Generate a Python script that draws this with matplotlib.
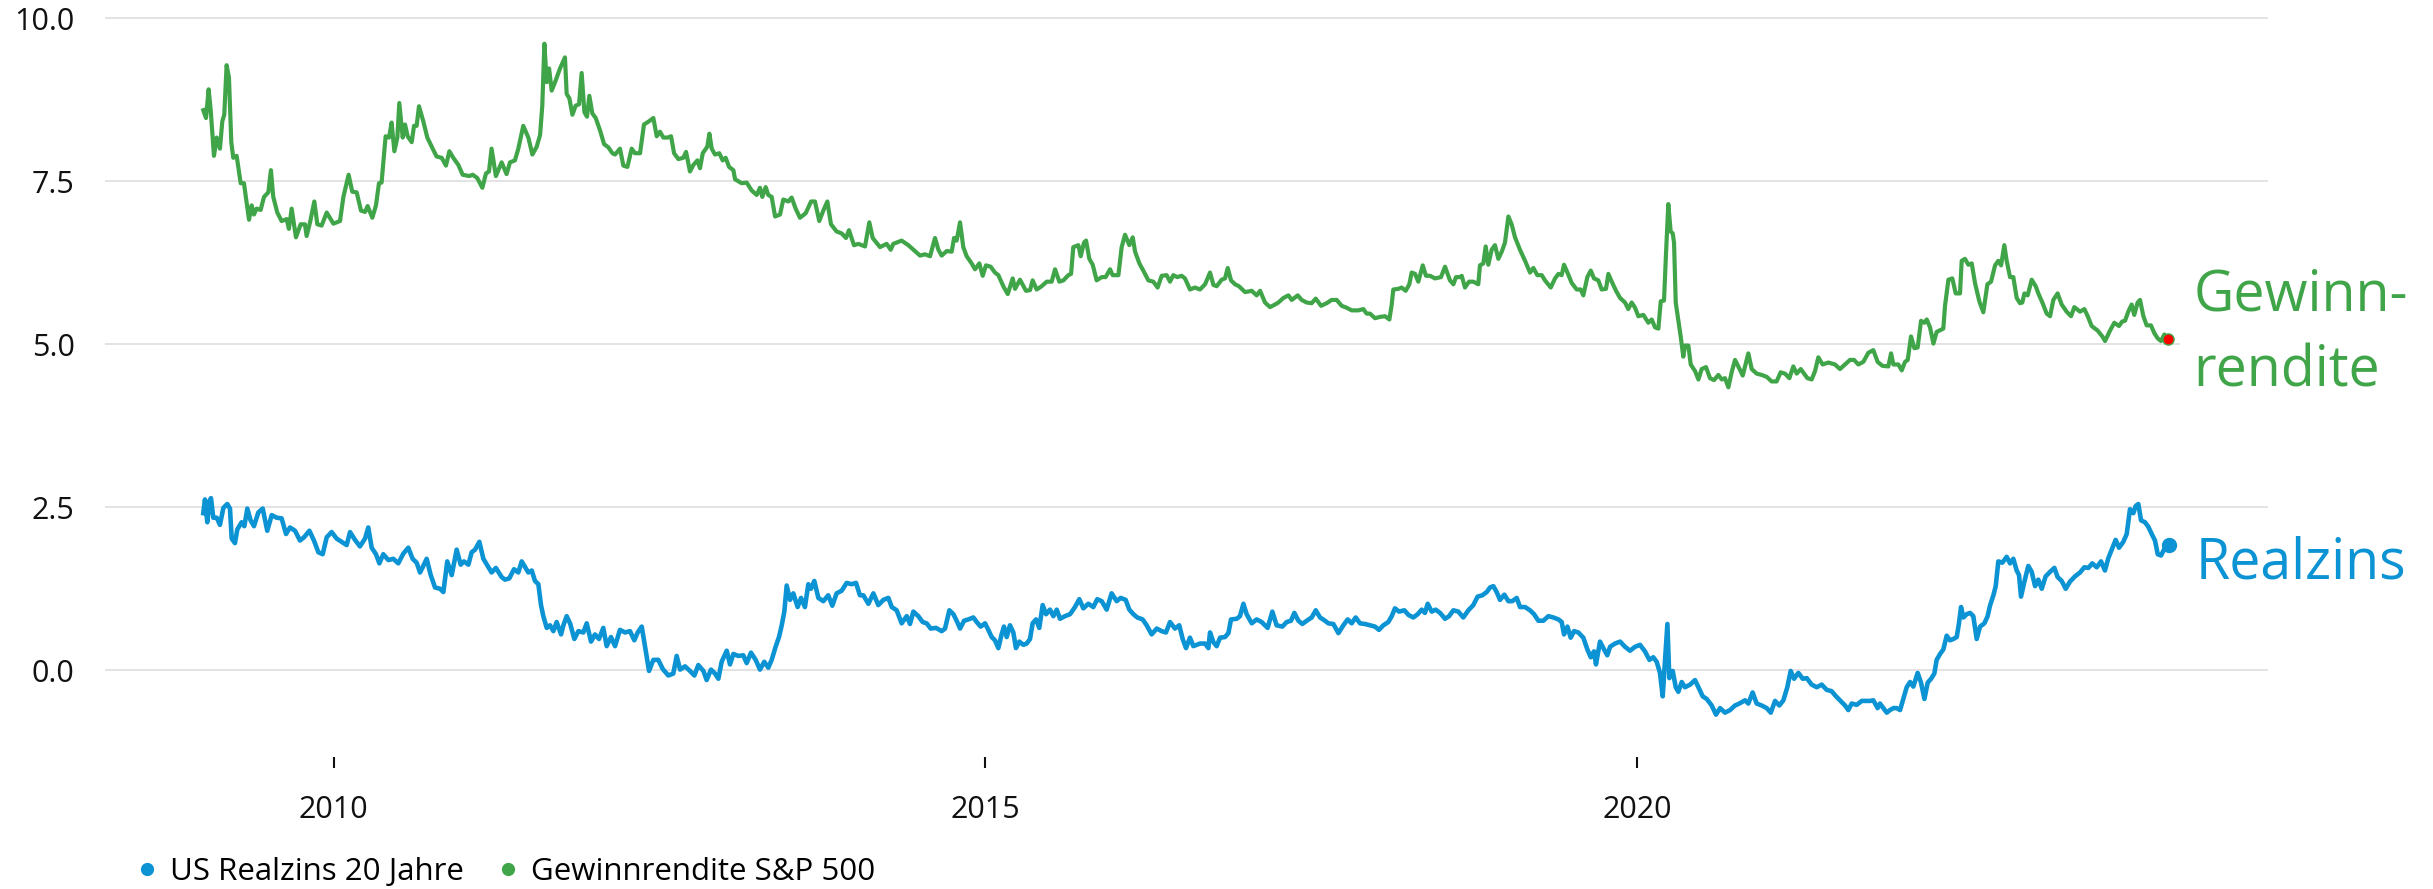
import matplotlib.pyplot as plt
from matplotlib.lines import Line2D

plt.rcParams['font.family'] = ['Open Sans', 'DejaVu Sans']

gruen = '#40a548'
blau = '#0b93d3'

# Gewinnrendite S&P 500 (Jahr als Dezimalzahl, Wert in %)
gewinn_jahr = [
    2009.000, 2009.021, 2009.041, 2009.057, 2009.082, 2009.103, 2009.128, 2009.146, 2009.161, 2009.179,
    2009.197, 2009.215, 2009.230, 2009.256, 2009.287, 2009.312, 2009.351, 2009.371, 2009.389, 2009.409,
    2009.440, 2009.466, 2009.499, 2009.519, 2009.537, 2009.568, 2009.601, 2009.640, 2009.657, 2009.678,
    2009.711, 2009.747, 2009.780, 2009.793, 2009.819, 2009.852, 2009.875, 2009.908, 2009.947, 2009.998,
    2010.049, 2010.075, 2010.115, 2010.143, 2010.177, 2010.210, 2010.241, 2010.261, 2010.297, 2010.325,
    2010.348, 2010.368, 2010.399, 2010.425, 2010.445, 2010.466, 2010.489, 2010.504, 2010.530, 2010.548,
    2010.568, 2010.599, 2010.617, 2010.637, 2010.655, 2010.688, 2010.719, 2010.760, 2010.790, 2010.829,
    2010.862, 2010.888, 2010.918, 2010.957, 2010.990, 2011.041, 2011.067, 2011.102, 2011.141, 2011.169,
    2011.192, 2011.212, 2011.245, 2011.289, 2011.327, 2011.353, 2011.391, 2011.417, 2011.455,
    2011.494, 2011.525, 2011.558, 2011.584, 2011.601, 2011.617, 2011.635, 2011.653, 2011.673, 2011.699,
    2011.737, 2011.775, 2011.788, 2011.809, 2011.832, 2011.857, 2011.883, 2011.903, 2011.924, 2011.944,
    2011.962, 2011.985, 2012.011, 2012.044, 2012.075, 2012.108, 2012.139, 2012.159, 2012.197, 2012.223,
    2012.254, 2012.287, 2012.312, 2012.351, 2012.381, 2012.420, 2012.453, 2012.479, 2012.504, 2012.530,
    2012.563, 2012.589, 2012.612, 2012.645, 2012.683, 2012.704, 2012.734, 2012.760, 2012.791, 2012.811,
    2012.832, 2012.867, 2012.883, 2012.901, 2012.926, 2012.959, 2012.985, 2013.008, 2013.034, 2013.067,
    2013.080, 2013.131, 2013.169, 2013.207, 2013.246, 2013.271, 2013.289, 2013.315, 2013.335, 2013.361,
    2013.387, 2013.425, 2013.450, 2013.489, 2013.514, 2013.545, 2013.578, 2013.622, 2013.663, 2013.693,
    2013.726, 2013.757, 2013.788, 2013.816, 2013.859, 2013.898, 2013.931, 2013.954, 2013.992, 2014.026,
    2014.077, 2014.110, 2014.136, 2014.192, 2014.243, 2014.274, 2014.294, 2014.358, 2014.409, 2014.448,
    2014.499, 2014.537, 2014.576, 2014.614, 2014.640, 2014.665, 2014.704, 2014.742, 2014.760, 2014.780,
    2014.806, 2014.831, 2014.857, 2014.895, 2014.921, 2014.954, 2014.980, 2015.005, 2015.041, 2015.074,
    2015.100, 2015.138, 2015.172, 2015.210, 2015.228, 2015.266, 2015.312, 2015.343, 2015.363, 2015.394,
    2015.432, 2015.471, 2015.509, 2015.535, 2015.568, 2015.599, 2015.637, 2015.658, 2015.675, 2015.714,
    2015.732, 2015.757, 2015.773, 2015.798, 2015.824, 2015.854, 2015.893, 2015.923, 2015.957, 2015.977,
    2016.021, 2016.046, 2016.072, 2016.105, 2016.131, 2016.149, 2016.182, 2016.212, 2016.251, 2016.289,
    2016.322, 2016.353, 2016.391, 2016.417, 2016.442, 2016.473, 2016.506, 2016.532, 2016.570, 2016.609,
    2016.647, 2016.686, 2016.724, 2016.750, 2016.775, 2016.813, 2016.839, 2016.860, 2016.885, 2016.916,
    2016.946, 2016.993, 2017.044, 2017.082, 2017.108, 2017.146, 2017.184, 2017.223, 2017.248, 2017.287,
    2017.325, 2017.351, 2017.397, 2017.427, 2017.466, 2017.504, 2017.535, 2017.576, 2017.619, 2017.657,
    2017.696, 2017.734, 2017.772, 2017.811, 2017.862, 2017.900, 2017.926, 2017.951, 2017.990, 2018.028,
    2018.067, 2018.100, 2018.118, 2018.130, 2018.169, 2018.194, 2018.225, 2018.253, 2018.271, 2018.297,
    2018.322, 2018.356, 2018.381, 2018.412, 2018.450, 2018.496, 2018.527, 2018.565, 2018.591, 2018.611,
    2018.642, 2018.655, 2018.680, 2018.711, 2018.744, 2018.782, 2018.795, 2018.821, 2018.839, 2018.859,
    2018.885, 2018.910, 2018.936, 2018.962, 2018.987, 2019.013, 2019.038, 2019.064, 2019.102, 2019.141,
    2019.179,
    2019.205, 2019.235, 2019.269, 2019.294, 2019.338, 2019.371, 2019.397, 2019.422, 2019.440, 2019.466,
    2019.499, 2019.537, 2019.568, 2019.588, 2019.619, 2019.645, 2019.670, 2019.703, 2019.729, 2019.762,
    2019.780, 2019.806, 2019.839, 2019.870, 2019.908, 2019.933, 2019.959, 2019.985, 2020.010, 2020.049,
    2020.087, 2020.113, 2020.138, 2020.164, 2020.182, 2020.207, 2020.223, 2020.240, 2020.258, 2020.274,
    2020.284, 2020.297, 2020.317, 2020.335, 2020.355, 2020.368, 2020.394, 2020.412, 2020.445, 2020.471,
    2020.496, 2020.529, 2020.560, 2020.591, 2020.624, 2020.650, 2020.675, 2020.701, 2020.726, 2020.752,
    2020.777, 2020.811, 2020.854, 2020.880, 2020.918, 2020.956, 2020.995, 2021.033, 2021.071, 2021.102,
    2021.135, 2021.169, 2021.199, 2021.225, 2021.256, 2021.281, 2021.307, 2021.340, 2021.366, 2021.391,
    2021.424, 2021.468, 2021.519, 2021.557, 2021.596, 2021.634, 2021.665, 2021.698, 2021.736,
    2021.775, 2021.813, 2021.846, 2021.882, 2021.928, 2021.949, 2021.967, 2022.005, 2022.031, 2022.056,
    2022.077, 2022.102, 2022.128, 2022.153, 2022.179, 2022.205, 2022.223, 2022.248, 2022.274, 2022.299,
    2022.350, 2022.363, 2022.389, 2022.419, 2022.445, 2022.478, 2022.491, 2022.516, 2022.542, 2022.568,
    2022.593, 2022.626, 2022.657, 2022.688, 2022.716, 2022.747, 2022.772, 2022.793, 2022.818, 2022.836,
    2022.862, 2022.887, 2022.913, 2022.938, 2022.956, 2022.972, 2022.997, 2023.028, 2023.059, 2023.079,
    2023.112, 2023.143, 2023.169, 2023.194, 2023.227, 2023.258, 2023.296, 2023.330, 2023.355, 2023.399,
    2023.432, 2023.458, 2023.488, 2023.534, 2023.570, 2023.591, 2023.629, 2023.662, 2023.698, 2023.723,
    2023.744, 2023.769, 2023.795, 2023.815, 2023.841, 2023.859, 2023.885, 2023.910, 2023.943, 2023.969,
    2023.995, 2024.020, 2024.046, 2024.077,
]
gewinn_wert = [
    8.59, 8.47, 8.91, 8.59, 7.89, 8.17, 8.00, 8.42, 8.52, 9.28,
    9.09, 8.10, 7.86, 7.89, 7.47, 7.47, 6.91, 7.13, 6.99, 7.08,
    7.06, 7.26, 7.33, 7.67, 7.26, 7.02, 6.89, 6.92, 6.77, 7.08,
    6.64, 6.84, 6.84, 6.66, 6.87, 7.19, 6.84, 6.82, 7.02, 6.85,
    6.89, 7.26, 7.60, 7.34, 7.33, 7.05, 7.03, 7.12, 6.94, 7.13,
    7.47, 7.48, 8.19, 8.17, 8.40, 7.96, 8.17, 8.70, 8.17, 8.37,
    8.19, 8.10, 8.35, 8.35, 8.65, 8.42, 8.17, 8.00, 7.88, 7.86,
    7.74, 7.96, 7.86, 7.75, 7.60, 7.58, 7.60, 7.55, 7.40, 7.62,
    7.65, 8.00, 7.58, 7.79, 7.61, 7.79, 7.82, 8.00, 8.35,
    8.17, 7.91, 8.03, 8.21, 8.66, 9.61, 9.02, 9.23, 8.89, 9.02,
    9.23, 9.40, 8.84, 8.77, 8.52, 8.66, 8.68, 9.16, 8.56, 8.49,
    8.81, 8.54, 8.47, 8.28, 8.07, 8.02, 7.93, 7.91, 8.00, 7.74,
    7.72, 8.00, 7.93, 7.93, 8.37, 8.42, 8.47, 8.19, 8.26, 8.17,
    8.17, 8.19, 7.93, 7.84, 7.86, 7.95, 7.65, 7.75, 7.82, 7.70,
    7.93, 8.03, 8.23, 8.00, 7.91, 7.93, 7.82, 7.86, 7.72, 7.67,
    7.53, 7.47, 7.48, 7.36, 7.29, 7.40, 7.26, 7.41, 7.29, 7.26,
    6.96, 6.99, 7.22, 7.19, 7.25, 7.08, 6.94, 7.01, 7.19, 7.19,
    6.89, 7.05, 7.19, 6.84, 6.73, 6.70, 6.63, 6.75, 6.52, 6.54,
    6.50, 6.87, 6.63, 6.49, 6.54, 6.45, 6.54, 6.59, 6.52, 6.45,
    6.36, 6.38, 6.35, 6.63, 6.45, 6.36, 6.43, 6.42, 6.63, 6.59,
    6.87, 6.49, 6.35, 6.24, 6.15, 6.24, 6.05, 6.21, 6.19, 6.10,
    6.06, 5.89, 5.77, 6.01, 5.85, 5.99, 5.82, 5.83, 5.98, 5.84,
    5.89, 5.96, 5.96, 6.15, 5.96, 5.98, 6.06, 6.08, 6.49, 6.52,
    6.35, 6.56, 6.59, 6.31, 6.22, 5.98, 6.03, 6.03, 6.15, 6.06,
    6.06, 6.49, 6.68, 6.52, 6.64, 6.42, 6.24, 6.13, 5.98, 5.96,
    5.87, 6.05, 6.06, 5.96, 6.06, 6.03, 6.05, 6.01, 5.84, 5.87,
    5.84, 5.92, 6.10, 5.91, 5.89, 5.99, 6.01, 6.17, 5.98, 5.92,
    5.89, 5.80, 5.82, 5.75, 5.82, 5.64, 5.57, 5.61, 5.64, 5.71,
    5.75, 5.68, 5.75, 5.68, 5.64, 5.63, 5.70, 5.59, 5.63, 5.68,
    5.68, 5.59, 5.56, 5.52, 5.52, 5.54, 5.47, 5.47, 5.40, 5.42,
    5.43, 5.38, 5.61, 5.84, 5.85, 5.87, 5.82, 5.92, 6.10, 6.08,
    5.96, 6.21, 6.05, 6.05, 6.01, 6.03, 6.19, 5.98, 5.92, 6.03,
    6.03, 6.05, 5.87, 5.96, 5.96, 5.92, 6.21, 6.24, 6.50, 6.22,
    6.45, 6.52, 6.31, 6.42, 6.56, 6.96, 6.84, 6.64, 6.45, 6.28,
    6.10,
    6.17, 6.06, 6.06, 5.98, 5.87, 6.01, 6.08, 6.06, 6.22, 6.10,
    5.94, 5.84, 5.84, 5.75, 6.03, 6.13, 6.01, 5.98, 5.84, 5.85,
    6.08, 5.96, 5.82, 5.71, 5.64, 5.54, 5.64, 5.56, 5.43, 5.45,
    5.33, 5.38, 5.26, 5.24, 5.66, 5.67, 6.42, 7.15, 6.73, 6.70,
    6.56, 5.64, 5.36, 5.12, 4.81, 4.98, 4.98, 4.69, 4.59, 4.46,
    4.62, 4.65, 4.48, 4.45, 4.53, 4.46, 4.48, 4.34, 4.57, 4.76,
    4.66, 4.52, 4.86, 4.62, 4.55, 4.53, 4.50, 4.43, 4.43, 4.57,
    4.55, 4.48, 4.66, 4.55, 4.62, 4.55, 4.48, 4.46, 4.59, 4.80,
    4.69, 4.72, 4.69, 4.62, 4.69, 4.76, 4.76, 4.69, 4.73,
    4.87, 4.91, 4.73, 4.67, 4.66, 4.86, 4.69, 4.69, 4.60, 4.73,
    4.76, 5.12, 4.94, 4.95, 5.36, 5.33, 5.38, 5.26, 5.01, 5.19,
    5.24, 5.59, 5.99, 6.01, 5.78, 5.78, 6.28, 6.31, 6.22, 6.24,
    5.94, 5.66, 5.49, 5.92, 5.96, 6.21, 6.28, 6.21, 6.52, 6.28,
    6.03, 6.03, 5.71, 5.63, 5.64, 5.78, 5.75, 5.99, 5.89, 5.78,
    5.63, 5.47, 5.43, 5.68, 5.78, 5.61, 5.50, 5.43, 5.57, 5.50,
    5.54, 5.43, 5.28, 5.21, 5.12, 5.05, 5.21, 5.33, 5.28, 5.35,
    5.36, 5.50, 5.61, 5.45, 5.64, 5.68, 5.43, 5.29, 5.29, 5.17,
    5.09, 5.05, 5.15, 5.08,
]

# US Realzins 20 Jahre
real_jahr = [
    2009.000, 2009.013, 2009.031, 2009.047, 2009.059, 2009.077, 2009.103, 2009.128, 2009.154, 2009.184,
    2009.205, 2009.218, 2009.243, 2009.261, 2009.294, 2009.315, 2009.338, 2009.363, 2009.389, 2009.422,
    2009.456, 2009.491, 2009.525, 2009.563, 2009.601, 2009.635, 2009.665, 2009.704, 2009.742, 2009.773,
    2009.814, 2009.849, 2009.883, 2009.916, 2009.947, 2009.985, 2010.023, 2010.062, 2010.100, 2010.126,
    2010.164, 2010.202, 2010.241, 2010.266, 2010.292, 2010.325, 2010.351, 2010.381, 2010.420, 2010.458,
    2010.496, 2010.535, 2010.573, 2010.606, 2010.637, 2010.663, 2010.688, 2010.714, 2010.745, 2010.778,
    2010.816, 2010.842, 2010.872, 2010.906, 2010.944, 2010.975, 2011.000, 2011.034, 2011.059, 2011.085,
    2011.118, 2011.149, 2011.182, 2011.212, 2011.245, 2011.289, 2011.315, 2011.348, 2011.384, 2011.417,
    2011.443,
    2011.494, 2011.520, 2011.545, 2011.571, 2011.591, 2011.609, 2011.635, 2011.660, 2011.686, 2011.711,
    2011.745, 2011.763, 2011.788, 2011.814, 2011.847, 2011.878, 2011.916, 2011.942, 2011.975, 2012.005,
    2012.036, 2012.069, 2012.095, 2012.128, 2012.159, 2012.197, 2012.236, 2012.274, 2012.307, 2012.333,
    2012.364, 2012.389, 2012.420, 2012.453, 2012.491, 2012.525, 2012.568, 2012.606, 2012.632, 2012.658,
    2012.696, 2012.734, 2012.768, 2012.798, 2012.837, 2012.862, 2012.895, 2012.926, 2012.952, 2012.977,
    2013.016, 2013.041, 2013.067, 2013.105, 2013.143, 2013.169, 2013.202, 2013.238, 2013.271, 2013.304,
    2013.335, 2013.361, 2013.391, 2013.417, 2013.438, 2013.458, 2013.476, 2013.502, 2013.527, 2013.560,
    2013.586, 2013.616, 2013.642, 2013.662, 2013.688, 2013.719, 2013.757, 2013.795, 2013.826, 2013.859,
    2013.898, 2013.936, 2013.974, 2014.008, 2014.038,
    2014.064, 2014.103, 2014.141, 2014.179, 2014.218, 2014.256, 2014.282, 2014.320, 2014.358, 2014.397,
    2014.422, 2014.448, 2014.486, 2014.519, 2014.550, 2014.581, 2014.622, 2014.665, 2014.691, 2014.724,
    2014.755, 2014.780, 2014.806, 2014.837, 2014.870, 2014.908, 2014.934, 2014.964, 2014.998, 2015.023,
    2015.049, 2015.074, 2015.100, 2015.125, 2015.143, 2015.164, 2015.189, 2015.215, 2015.235, 2015.261,
    2015.292, 2015.317, 2015.343, 2015.363, 2015.389, 2015.414, 2015.440, 2015.466, 2015.496, 2015.522,
    2015.548, 2015.573, 2015.611, 2015.650, 2015.688, 2015.721, 2015.752, 2015.790, 2015.829, 2015.859,
    2015.893, 2015.931, 2015.969, 2016.008, 2016.038, 2016.077, 2016.105, 2016.136, 2016.166, 2016.207,
    2016.238, 2016.276, 2016.315, 2016.353, 2016.386, 2016.417, 2016.455, 2016.488, 2016.514, 2016.540,
    2016.570, 2016.596,
    2016.647, 2016.686, 2016.711, 2016.724, 2016.750, 2016.775, 2016.801, 2016.839, 2016.865, 2016.885,
    2016.929, 2016.954, 2016.980, 2017.005, 2017.044, 2017.082, 2017.120, 2017.166, 2017.202, 2017.235,
    2017.279, 2017.312, 2017.345, 2017.371, 2017.402, 2017.432, 2017.466, 2017.504, 2017.535, 2017.568,
    2017.606, 2017.632, 2017.670, 2017.709, 2017.747, 2017.780, 2017.811, 2017.841, 2017.875, 2017.913,
    2017.951, 2017.990, 2018.020, 2018.054, 2018.092, 2018.118, 2018.143, 2018.174, 2018.215, 2018.246,
    2018.284, 2018.317, 2018.348, 2018.373, 2018.394, 2018.425, 2018.455, 2018.489, 2018.527, 2018.558,
    2018.591, 2018.629, 2018.667, 2018.706, 2018.744, 2018.777, 2018.813, 2018.847, 2018.872, 2018.898,
    2018.923, 2018.949, 2018.982, 2019.013, 2019.043, 2019.077, 2019.102, 2019.141, 2019.179,
    2019.210, 2019.243, 2019.281, 2019.320, 2019.358, 2019.397, 2019.422, 2019.440, 2019.466, 2019.491,
    2019.517, 2019.550, 2019.588, 2019.619, 2019.645, 2019.670, 2019.685, 2019.716, 2019.747, 2019.772,
    2019.793, 2019.831, 2019.870, 2019.908, 2019.946, 2019.985, 2020.023, 2020.061, 2020.095, 2020.125,
    2020.151, 2020.176, 2020.197, 2020.215, 2020.233, 2020.248, 2020.274, 2020.297, 2020.317, 2020.343,
    2020.368, 2020.407, 2020.445, 2020.471, 2020.504, 2020.535, 2020.573, 2020.606, 2020.637, 2020.675,
    2020.714, 2020.752, 2020.785, 2020.829, 2020.854, 2020.887, 2020.918, 2020.956, 2020.995, 2021.026,
    2021.059, 2021.092, 2021.123, 2021.153, 2021.179, 2021.205, 2021.238, 2021.271, 2021.302, 2021.340,
    2021.379, 2021.417, 2021.455, 2021.493, 2021.527, 2021.557, 2021.596, 2021.621, 2021.647, 2021.685,
    2021.724,
    2021.788, 2021.813, 2021.846, 2021.864, 2021.890, 2021.916, 2021.941, 2021.967, 2021.992, 2022.018,
    2022.043, 2022.069, 2022.095, 2022.120, 2022.153, 2022.179, 2022.205, 2022.230, 2022.256, 2022.281,
    2022.299, 2022.325, 2022.350, 2022.376, 2022.401, 2022.427, 2022.453, 2022.470, 2022.486, 2022.504,
    2022.529, 2022.555, 2022.580, 2022.606, 2022.632, 2022.665, 2022.690, 2022.708, 2022.734, 2022.752,
    2022.772, 2022.803, 2022.836, 2022.862, 2022.887, 2022.913, 2022.931, 2022.946, 2022.972, 2023.002,
    2023.028, 2023.054, 2023.079, 2023.105, 2023.135, 2023.169, 2023.202, 2023.227, 2023.258, 2023.289,
    2023.322, 2023.360, 2023.399, 2023.432, 2023.463, 2023.493, 2023.527, 2023.560, 2023.590, 2023.616,
    2023.642, 2023.672, 2023.698, 2023.731, 2023.757, 2023.782, 2023.808, 2023.826, 2023.846, 2023.867,
    2023.897, 2023.923, 2023.949, 2023.974, 2023.995, 2024.020, 2024.046, 2024.082,
]
real_wert = [
    2.41, 2.62, 2.27, 2.59, 2.64, 2.34, 2.34, 2.23, 2.49, 2.55,
    2.48, 2.02, 1.95, 2.16, 2.27, 2.21, 2.48, 2.30, 2.21, 2.42,
    2.48, 2.14, 2.38, 2.34, 2.33, 2.09, 2.19, 2.14, 1.99, 2.04,
    2.14, 1.99, 1.81, 1.78, 2.04, 2.12, 2.02, 1.97, 1.92, 2.12,
    2.00, 1.90, 2.02, 2.19, 1.88, 1.78, 1.64, 1.78, 1.69, 1.71,
    1.64, 1.79, 1.88, 1.71, 1.65, 1.50, 1.60, 1.71, 1.46, 1.27,
    1.25, 1.20, 1.67, 1.46, 1.85, 1.62, 1.67, 1.62, 1.81, 1.85,
    1.97, 1.71, 1.60, 1.50, 1.57, 1.43, 1.39, 1.41, 1.55, 1.50,
    1.67,
    1.50, 1.53, 1.37, 1.32, 1.00, 0.83, 0.65, 0.69, 0.60, 0.74,
    0.55, 0.69, 0.83, 0.72, 0.48, 0.60, 0.58, 0.72, 0.44, 0.55,
    0.48, 0.65, 0.37, 0.51, 0.37, 0.62, 0.58, 0.60, 0.46, 0.58,
    0.67, 0.37, -0.01, 0.16, 0.16, 0.02, -0.08, -0.05, 0.22, 0.01,
    0.06, -0.01, -0.08, 0.08, -0.01, -0.15, 0.01, -0.05, -0.13, 0.13,
    0.30, 0.09, 0.25, 0.22, 0.23, 0.11, 0.27, 0.16, 0.01, 0.13,
    0.04, 0.16, 0.36, 0.51, 0.69, 0.90, 1.30, 1.08, 1.18, 0.97,
    1.11, 0.97, 1.32, 1.25, 1.37, 1.11, 1.06, 1.15, 0.99, 1.18,
    1.22, 1.34, 1.32, 1.34, 1.15,
    1.15, 1.02, 1.18, 1.00, 1.08, 1.11, 0.97, 0.92, 0.72, 0.83,
    0.71, 0.90, 0.83, 0.74, 0.72, 0.64, 0.65, 0.60, 0.64, 0.92,
    0.86, 0.76, 0.64, 0.76, 0.78, 0.81, 0.74, 0.67, 0.72, 0.62,
    0.51, 0.46, 0.34, 0.55, 0.67, 0.51, 0.69, 0.58, 0.34, 0.44,
    0.39, 0.41, 0.48, 0.72, 0.78, 0.65, 1.00, 0.86, 0.93, 0.83,
    0.93, 0.79, 0.83, 0.86, 0.97, 1.09, 0.95, 1.02, 0.97, 1.09,
    1.06, 0.93, 1.18, 1.06, 1.11, 1.08, 0.93, 0.86, 0.81, 0.78,
    0.69, 0.55, 0.64, 0.60, 0.58, 0.74, 0.64, 0.69, 0.48, 0.34,
    0.50, 0.37,
    0.41, 0.41, 0.34, 0.58, 0.43, 0.37, 0.50, 0.51, 0.57, 0.78,
    0.79, 0.83, 1.02, 0.86, 0.72, 0.78, 0.74, 0.65, 0.90, 0.69,
    0.67, 0.74, 0.76, 0.88, 0.76, 0.71, 0.76, 0.81, 0.92, 0.81,
    0.76, 0.72, 0.71, 0.57, 0.69, 0.78, 0.72, 0.81, 0.72, 0.71,
    0.69, 0.67, 0.62, 0.69, 0.74, 0.83, 0.95, 0.90, 0.92, 0.85,
    0.81, 0.86, 0.93, 0.88, 1.02, 0.90, 0.93, 0.88, 0.79, 0.83,
    0.92, 0.90, 0.81, 0.92, 1.00, 1.13, 1.15, 1.20, 1.27, 1.29,
    1.20, 1.08, 1.16, 1.06, 1.06, 1.11, 0.97, 0.97, 0.92,
    0.86, 0.76, 0.76, 0.83, 0.81, 0.78, 0.74, 0.55, 0.67, 0.50,
    0.60, 0.58, 0.50, 0.32, 0.20, 0.29, 0.09, 0.44, 0.32, 0.23,
    0.36, 0.41, 0.44, 0.36, 0.30, 0.36, 0.39, 0.29, 0.16, 0.20,
    0.13, -0.04, -0.40, 0.16, 0.71, -0.12, -0.01, -0.26, -0.33, -0.18,
    -0.26, -0.22, -0.15, -0.26, -0.40, -0.44, -0.54, -0.68, -0.58, -0.65,
    -0.61, -0.54, -0.51, -0.46, -0.51, -0.34, -0.51, -0.54, -0.58, -0.65,
    -0.47, -0.54, -0.46, -0.26, -0.01, -0.13, -0.04, -0.13, -0.12, -0.22,
    -0.26, -0.22, -0.30, -0.32, -0.40, -0.46, -0.54, -0.61, -0.51, -0.53,
    -0.47,
    -0.47, -0.46, -0.58, -0.51, -0.58, -0.65, -0.61, -0.58, -0.58, -0.61,
    -0.44, -0.26, -0.18, -0.25, -0.04, -0.19, -0.44, -0.19, -0.13, -0.05,
    0.16, 0.25, 0.32, 0.53, 0.46, 0.48, 0.51, 0.72, 0.97, 0.81,
    0.86, 0.88, 0.83, 0.48, 0.67, 0.72, 0.83, 0.99, 1.15, 1.29,
    1.67, 1.65, 1.74, 1.64, 1.71, 1.53, 1.46, 1.13, 1.36, 1.60,
    1.51, 1.29, 1.39, 1.25, 1.44, 1.51, 1.57, 1.43, 1.37, 1.25,
    1.36, 1.44, 1.50, 1.58, 1.57, 1.64, 1.58, 1.67, 1.53, 1.72,
    1.85, 2.00, 1.88, 1.97, 2.09, 2.47, 2.41, 2.52, 2.55, 2.30,
    2.27, 2.20, 2.09, 1.99, 1.78, 1.76, 1.86, 1.92,
]

x_ticks = [2010, 2015, 2020]
y_ticks = [0.0, 2.5, 5.0, 7.5, 10.0]
legende = ['US Realzins 20 Jahre', 'Gewinnrendite S&P 500']

fig = plt.figure(figsize=(24.33, 8.89), dpi=100)
ax = fig.add_axes([105 / 2433, 132 / 889, 2163 / 2433, 742 / 889])

ax.plot(real_jahr, real_wert, color=blau, lw=3.3, solid_joinstyle='round', zorder=3)
ax.plot(gewinn_jahr, gewinn_wert, color=gruen, lw=3.0, solid_joinstyle='round', zorder=3)

# Endpunkte
ax.plot(real_jahr[-1], real_wert[-1], 'o', color=blau, ms=10, zorder=4)
ax.plot(gewinn_jahr[-1], gewinn_wert[-1], 'o', mfc='red', mec=gruen, mew=1, ms=8, zorder=4)

# Beschriftungen am Linienende (va='baseline' -> Grundlinie der letzten Zeile)
ax.annotate('Gewinn-\nrendite', xy=(gewinn_jahr[-1], gewinn_wert[-1]), xytext=(18, -34.5),
            textcoords='offset points', color=gruen, fontsize=40, va='baseline', ha='left',
            linespacing=1.46, zorder=2.5,
            bbox=dict(boxstyle='square,pad=0.25', fc='white', ec='none'))
ax.annotate('Realzins', xy=(real_jahr[-1], real_wert[-1]), xytext=(19, -24),
            textcoords='offset points', color=blau, fontsize=40, va='baseline', ha='left',
            zorder=2.5)

ax.set_xlim(2008.246, 2024.841)
ax.set_ylim(-1.33, 10.05)
ax.set_xticks(x_ticks)
ax.set_xticklabels([str(j) for j in x_ticks])
ax.set_yticks(y_ticks)
ax.set_yticklabels(['%.1f' % v for v in y_ticks])

ax.yaxis.grid(True, color='#dedede', lw=1.2)
ax.set_axisbelow(True)
for s in ax.spines.values():
    s.set_visible(False)
ax.tick_params(axis='y', length=0, pad=22, labelsize=22, labelcolor='#111111')
ax.tick_params(axis='x', length=8, width=1.5, pad=19, labelsize=22, color='#111111',
               labelcolor='#111111')

handles = [Line2D([], [], ls='', marker='o', color=blau, ms=8.5),
           Line2D([], [], ls='', marker='o', color=gruen, ms=8.5)]
fig.legend(handles, legende, loc='center left', bbox_to_anchor=(134 / 2433, 1 - 872 / 889),
           ncol=2, frameon=False, fontsize=22.5, handlelength=0.8, handletextpad=0.35,
           columnspacing=1.0, borderpad=0, borderaxespad=0)

fig.savefig('out.png', dpi=100)
